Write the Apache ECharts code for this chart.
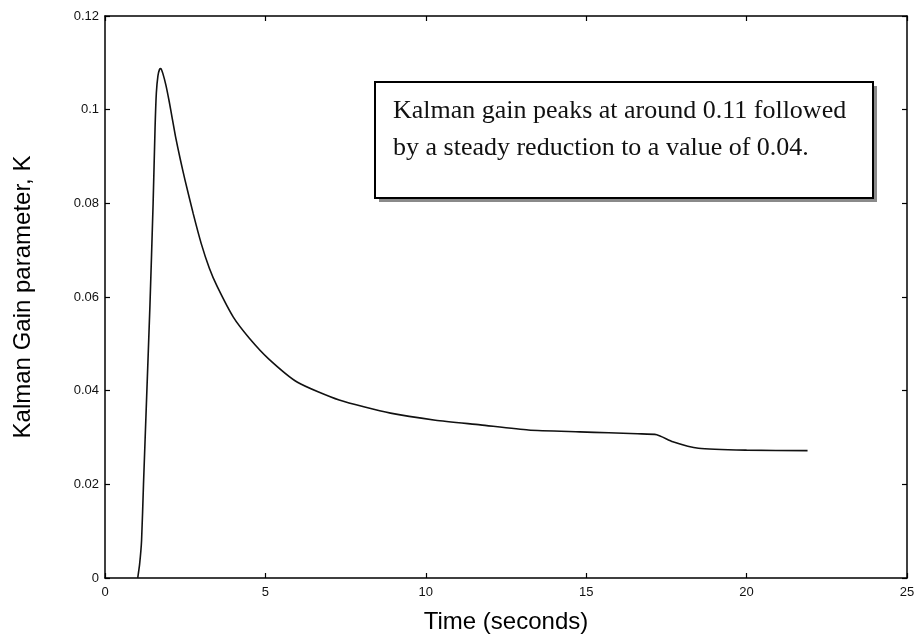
<!DOCTYPE html>
<html>
<head>
<meta charset="utf-8">
<script src="https://cdn.jsdelivr.net/npm/echarts@6/dist/echarts.min.js"></script>
<style>
	html, body { margin: 0; padding: 0; background: #fff; }
	#kalman_gain { width: 914px; height: 640px; }
</style>
</head>
<body>
<div id="kalman_gain"></div>
<script>
	// time (s) and Kalman gain
	var time_list = [1.02, 1.08, 1.14, 1.20, 1.30, 1.40, 1.50, 1.56, 1.60, 1.65, 1.70, 1.74, 1.80, 1.90,
		2.00, 2.10, 2.20, 2.35, 2.50, 2.75, 3.00, 3.25, 3.50, 4.00, 4.50, 5.10, 6.00, 7.30, 8.90, 10.30,
		11.70, 13.20, 14.80, 15.70, 16.60, 17.20, 17.70, 18.50, 20.00, 21.90];
	var gain_list = [0, 0.003, 0.008, 0.020, 0.039, 0.058, 0.080, 0.096, 0.1035, 0.1072, 0.1086, 0.1088, 0.1078, 0.1052,
		0.1018, 0.098, 0.0942, 0.0893, 0.0848, 0.0778, 0.0714, 0.0662, 0.0622, 0.0557, 0.0512, 0.0468, 0.0418, 0.038, 0.0352, 0.0337,
		0.0327, 0.0316, 0.0312, 0.031, 0.0308, 0.0306, 0.0291, 0.0277, 0.0273, 0.0272];
	var x_ticks = [0, 5, 10, 15, 20, 25];
	var y_ticks = [0, 0.02, 0.04, 0.06, 0.08, 0.1, 0.12];
	var note_lines = ['Kalman gain peaks at around 0.11 followed', 'by a steady reduction to a value of 0.04.'];

	var points = time_list.map(function (t, i) { return [t, gain_list[i]]; });

	var chart = echarts.init(document.getElementById('kalman_gain'));
	var axisLine = { show: true, onZero: false, lineStyle: { color: '#000', width: 1.5 } };
	var tick = { show: true, inside: true, length: 5, lineStyle: { color: '#000', width: 1.2 } };
	var labelFont = { color: '#111', fontSize: 13, fontFamily: 'Liberation Sans' };

	chart.setOption({
		animation: false,
		backgroundColor: '#fff',
		grid: { left: 105, right: 7, top: 16, bottom: 62, containLabel: false, outerBoundsMode: 'none' },
		xAxis: [{
			type: 'value',
			min: x_ticks[0],
			max: x_ticks[x_ticks.length - 1],
			interval: 5,
			name: 'Time (seconds)',
			nameLocation: 'middle',
			nameGap: 32,
			nameTextStyle: { color: '#000', fontSize: 24, fontFamily: 'Liberation Sans' },
			axisLine: axisLine,
			axisTick: tick,
			splitLine: { show: false },
			axisLabel: Object.assign({ margin: 8 }, labelFont)
		}, {
			type: 'value',
			position: 'top',
			min: x_ticks[0],
			max: x_ticks[x_ticks.length - 1],
			interval: 5,
			axisLine: axisLine,
			axisTick: tick,
			splitLine: { show: false },
			axisLabel: { show: false }
		}],
		yAxis: [{
			type: 'value',
			min: y_ticks[0],
			max: y_ticks[y_ticks.length - 1],
			interval: 0.02,
			name: 'Kalman Gain parameter, K',
			nameLocation: 'middle',
			nameGap: 70,
			nameTextStyle: { color: '#000', fontSize: 24, fontFamily: 'Liberation Sans' },
			axisLine: axisLine,
			axisTick: tick,
			splitLine: { show: false },
			axisLabel: Object.assign({ margin: 6, formatter: function (v) { return +v.toFixed(2) + ''; } }, labelFont)
		}, {
			type: 'value',
			position: 'right',
			min: y_ticks[0],
			max: y_ticks[y_ticks.length - 1],
			interval: 0.02,
			axisLine: axisLine,
			axisTick: tick,
			splitLine: { show: false },
			axisLabel: { show: false }
		}],
		series: [{
			type: 'line',
			data: points,
			showSymbol: false,
			smooth: 0.2,
			lineStyle: { color: '#111', width: 1.6 }
		}],
		graphic: [
			// shadow of the note box
			{ type: 'rect', left: 379, top: 86, shape: { width: 498, height: 116 }, style: { fill: '#8a8a8a' }, z: 10 },
			{ type: 'rect', left: 374, top: 81, shape: { width: 498, height: 116 }, style: { fill: '#fff', stroke: '#000', lineWidth: 2 }, z: 11 },
			{ type: 'text', left: 393, top: 98, style: { text: note_lines[0], fill: '#111', font: '26px "Liberation Serif"' }, z: 12 },
			{ type: 'text', left: 393, top: 135, style: { text: note_lines[1], fill: '#111', font: '26px "Liberation Serif"' }, z: 12 }
		]
	});
</script>
</body>
</html>
